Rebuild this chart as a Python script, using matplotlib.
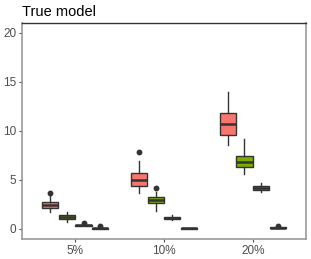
import matplotlib
matplotlib.use("Agg")
import matplotlib.pyplot as plt

plt.rcParams['font.family'] = ['Liberation Sans', 'DejaVu Sans']

categories = ["5%", "10%", "20%"]
series_colors = ["#F8766D", "#7CAE00", "#00BFC4", "#C77CFF"]

# box stats per series: lists over categories of (whislo, q1, med, q3, whishi, outliers)
s1 = [(1.70, 2.11, 2.45, 2.76, 3.37, [3.64]),
      (3.64, 4.42, 5.00, 5.68, 6.97, [7.83]),
      (8.54, 9.59, 10.74, 11.80, 14.0, [])]
s2 = [(0.74, 0.99, 1.22, 1.43, 1.73, []),
      (1.84, 2.62, 2.96, 3.30, 3.81, [4.18]),
      (5.58, 6.30, 6.87, 7.48, 9.21, [])]
s3 = [(0.28, 0.32, 0.36, 0.40, 0.45, [0.62]),
      (0.89, 1.06, 1.15, 1.24, 1.43, []),
      (3.74, 4.01, 4.21, 4.39, 4.72, [])]
s4 = [(0.02, 0.05, 0.07, 0.09, 0.12, [0.26]),
      (0.03, 0.05, 0.07, 0.09, 0.11, []),
      (0.06, 0.10, 0.13, 0.16, 0.20, [0.34])]
series = [s1, s2, s3, s4]

fig = plt.figure(figsize=(3.11, 2.59), dpi=100)
ax = fig.add_axes([22/311, 1-239/259, (306-22)/311, (239-23)/259])

edge = "#333333"
n = len(series)
dodge = 0.75
slot = dodge / n
for si, s in enumerate(series):
    stats = []
    pos = []
    for ci, (wl, q1, med, q3, wh, fl) in enumerate(s):
        stats.append(dict(whislo=wl, q1=q1, med=med, q3=q3, whishi=wh, fliers=fl))
        pos.append(ci + 1 - dodge/2 + slot*(si+0.5))
    ax.bxp(stats, positions=pos, widths=slot*0.97, patch_artist=True,
           showcaps=False,
           boxprops=dict(facecolor=series_colors[si], edgecolor=edge, linewidth=1.0),
           medianprops=dict(color=edge, linewidth=1.8),
           whiskerprops=dict(color=edge, linewidth=1.0),
           flierprops=dict(marker='o', markerfacecolor=edge, markeredgecolor=edge, markersize=3.2))

ax.set_xlim(0.4, 3.6)
ax.set_ylim(-1.02, 21.0)
ax.set_xticks([1, 2, 3])
ax.set_xticklabels(categories)
ax.set_yticks([0, 5, 10, 15, 20])
ax.set_yticklabels(["0", "5", "10", "15", "20"])
ax.tick_params(colors="#4D4D4D", labelsize=8.5, length=2.5, width=0.8, pad=1.5)
for t in ax.get_xticklabels() + ax.get_yticklabels():
    t.set_color("#4D4D4D")
for side in ["left", "bottom", "right"]:
    ax.spines[side].set_color("#999999")
    ax.spines[side].set_linewidth(1.2)
ax.spines["top"].set_color("#333333")
ax.spines["top"].set_linewidth(1.0)

fig.text(22/311, 1-16/259, "True model", fontsize=10.5, color="black", ha="left", va="baseline")

fig.savefig("out.png", dpi=100)
